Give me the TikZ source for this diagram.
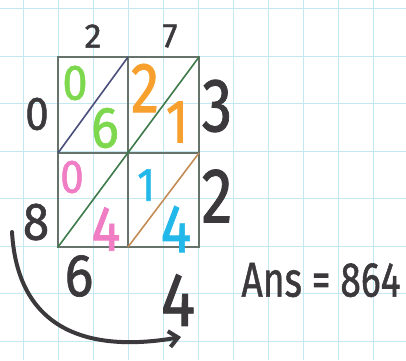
\documentclass[tikz,border=0pt]{standalone}
\usepackage{fontspec}
\setmainfont{Fira Sans}[UprightFeatures={FakeBold=1.2}]
\usetikzlibrary{arrows.meta}
\definecolor{ink}{HTML}{3B393C}
\definecolor{gridc}{HTML}{C4E8F2}
\definecolor{boxc}{HTML}{66736A}
\definecolor{mgreen}{HTML}{7ED84E}
\definecolor{morange}{HTML}{F7A02E}
\definecolor{mpink}{HTML}{F07CC4}
\definecolor{mcyan}{HTML}{22B8EA}
\definecolor{navy}{HTML}{4A4E7A}
\definecolor{dgreen}{HTML}{3E7A4A}
\definecolor{lbrown}{HTML}{C48C55}
\begin{document}
\begin{tikzpicture}[x=1pt,y=-1pt,
  dg/.style={inner sep=0pt, anchor=center, font=\fontsize{#1}{#1}\selectfont},
  gridline/.style={draw=gridc, line width=1pt},
  boxline/.style={draw=boxc, line width=1.2pt},
  diag/.style={line width=1.6pt}]
\useasboundingbox (0,0) rectangle (406,360);
\fill[white] (0,0) rectangle (406,360);
% paper grid
\foreach \gx in {23,58,...,408} \draw[gridline] (\gx,0) -- (\gx,360);
\foreach \gy in {8.5,56,...,360} \draw[gridline] (0,\gy) -- (406,\gy);
% lattice
\coordinate (tl) at (58,57);
\coordinate (tm) at (128,57);
\coordinate (tr) at (199,57);
\coordinate (ml) at (58,153);
\coordinate (mm) at (128,153);
\coordinate (mr) at (199,153);
\coordinate (bl) at (58,247);
\coordinate (bm) at (128,247);
\coordinate (br) at (199,247);
\draw[boxline] (tl) rectangle (br);
\draw[boxline] (tm) -- (bm);
\draw[boxline] (ml) -- (mr);
\draw[diag, navy] (ml) -- (tm);
\draw[diag, dgreen] (bl) -- (tr);
\draw[diag, lbrown] (bm) -- (mr);
% outer digits
\node[dg=34, ink] (t2) at (93,36) {2};
\node[dg=34, ink] (t7) at (170,36) {7};
\node[dg=47, ink, xscale=0.9, transform shape] (l0) at (37,114) {0};
\node[dg=76, ink, xscale=0.8, transform shape] (r3) at (217,106) {3};
\node[dg=78, ink, xscale=0.8, transform shape] (r2) at (217,196) {2};
\node[dg=53, ink, xscale=0.9, transform shape] (l8) at (36,222) {8};
\node[dg=60, ink, xscale=0.9, transform shape] (b6) at (79,276) {6};
\node[dg=76, ink, xscale=0.85, transform shape] (b4) at (178,300) {4};
% cell digits
\node[dg=50, mgreen, xscale=0.9, transform shape] (g0) at (75,83) {0};
\node[dg=58, mgreen, xscale=0.9, transform shape] (g6) at (105,128) {6};
\node[dg=71, morange, xscale=0.8, transform shape] (o2) at (145,88) {2};
\node[dg=61, morange, xscale=0.85, transform shape] (o1) at (177,122) {1};
\node[dg=47, mpink, xscale=0.9, transform shape] (p0) at (72,177) {0};
\node[dg=64, mpink, xscale=0.85, transform shape] (p4) at (106,229) {4};
\node[dg=47, mcyan, xscale=0.85, transform shape] (c1) at (146,185) {1};
\node[dg=68, mcyan, xscale=0.85, transform shape] (c4) at (176,229) {4};
% answer
\node[dg=49, ink, xscale=0.76, transform shape] (ans) at (321,280) {Ans = 864};
% arrow
\coordinate (as) at (12,232);
\coordinate (ae) at (181,337);
\draw[ink, line width=4pt, line cap=round, -{Straight Barb[length=9pt,width=16pt,line width=4pt]}]
  (as) .. controls (18,335) and (95,352) .. (ae);
\end{tikzpicture}
\end{document}
